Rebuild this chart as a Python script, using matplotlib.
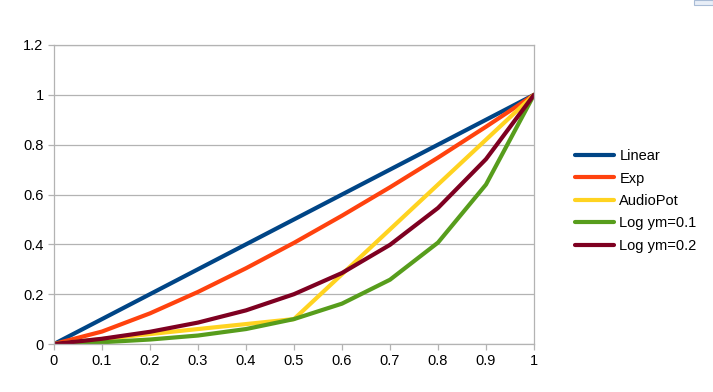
import matplotlib
matplotlib.use("Agg")
import matplotlib.pyplot as plt
from matplotlib.patches import Rectangle

plt.rcParams['font.family'] = ['Liberation Sans', 'DejaVu Sans']

# values
x = [0, 0.1, 0.2, 0.3, 0.4, 0.5, 0.6, 0.7, 0.8, 0.9, 1]
linear = [0, 0.1, 0.2, 0.3, 0.4, 0.5, 0.6, 0.7, 0.8, 0.9, 1]
exp_vals = [0, 0.05, 0.123, 0.209, 0.304, 0.406, 0.515, 0.629, 0.748, 0.872, 1]
audiopot = [0, 0.02, 0.04, 0.06, 0.08, 0.1, 0.28, 0.46, 0.64, 0.82, 1]
log01 = [0, 0.007, 0.018, 0.034, 0.06, 0.1, 0.162, 0.258, 0.407, 0.64, 1]
log02 = [0, 0.021, 0.049, 0.086, 0.135, 0.2, 0.285, 0.398, 0.546, 0.742, 1]

names = ["Linear", "Exp", "AudioPot", "Log ym=0.1", "Log ym=0.2"]
colors = ["#004586", "#ff420e", "#ffd320", "#579d1c", "#7e0021"]
series = [linear, exp_vals, audiopot, log01, log02]

fig = plt.figure(figsize=(7.13, 3.92), dpi=100)
ax = fig.add_axes([54/713, 48/392, 480/713, 299/392])

for name, c, ys in zip(names, colors, series):
    ax.plot(x, ys, color=c, lw=3, label=name, solid_capstyle='round')

ax.set_xlim(0, 1)
ax.set_ylim(0, 1.2)
ax.set_xticks(x)
ax.set_xticklabels(["0", "0.1", "0.2", "0.3", "0.4", "0.5", "0.6", "0.7", "0.8", "0.9", "1"])
ax.set_yticks([0, 0.2, 0.4, 0.6, 0.8, 1, 1.2])
ax.set_yticklabels(["0", "0.2", "0.4", "0.6", "0.8", "1", "1.2"])
ax.grid(axis='y', color='#b3b3b3', lw=0.9)
ax.set_axisbelow(True)
for s in ax.spines.values():
    s.set_color('#b3b3b3')
    s.set_linewidth(0.9)
ax.tick_params(colors='#b3b3b3', labelcolor='black', labelsize=10.5, length=4, width=0.9)

ax.legend(loc='upper left', bbox_to_anchor=(1.085, 0.652), frameon=False,
          fontsize=10.5, handlelength=2.7, handletextpad=0.35, labelspacing=0.58,
          borderaxespad=0, borderpad=0)

fig.patches.append(Rectangle((694/713, 387/392), 19/713, 5/392, transform=fig.transFigure,
                             facecolor='#e8eef7', edgecolor='#a9bcd6', lw=0.8))

fig.savefig("out.png", dpi=100)
